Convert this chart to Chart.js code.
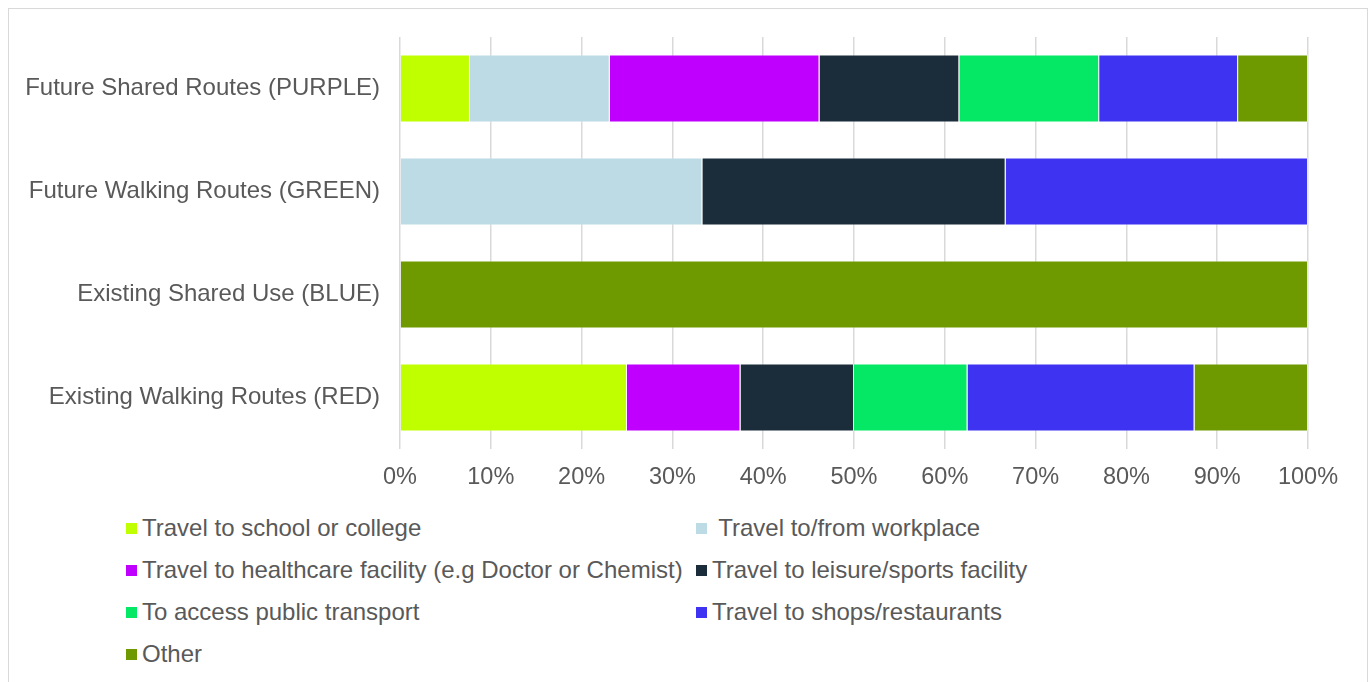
<!DOCTYPE html>
<html>
<head>
<meta charset="utf-8">
<script src="https://cdn.jsdelivr.net/npm/chart.js@4"></script>
<style>
  html, body { margin: 0; padding: 0; background: #fff; }
  body { width: 1372px; height: 682px; overflow: hidden; position: relative;
         font-family: "Liberation Sans", Arial, sans-serif; }
  #frame { position: absolute; left: 8px; top: 8px; width: 1360px; height: 700px;
           border: 1px solid #d9d9d9; box-sizing: border-box; }
  #wrap { position: absolute; left: 0; top: 0; width: 1372px; height: 500px; }
  #legend { position: absolute; left: 126px; top: 507px; display: grid;
            grid-template-columns: 570px 620px; grid-auto-rows: 42px;
            font-size: 24px; color: #595959; }
  #legend .item { display: flex; align-items: center; white-space: pre; }
  #legend .box { width: 11px; height: 11px; margin-right: 5px; flex: none; }
</style>
</head>
<body>
<div id="frame"></div>
<div id="wrap"><canvas id="usage"></canvas></div>
<div id="legend"></div>
<script>
// routes, top to bottom
const routes = ['Future Shared Routes (PURPLE)', 'Future Walking Routes (GREEN)',
                'Existing Shared Use (BLUE)', 'Existing Walking Routes (RED)'];

// share of responses per journey purpose (%)
const school     = [7.7, 0, 0, 25];
const workplace  = [15.4, 33.3, 0, 0];
const healthcare = [23.1, 0, 0, 12.5];
const leisure    = [15.4, 33.4, 0, 12.5];
const transport  = [15.4, 0, 0, 12.5];
const shops      = [15.3, 33.3, 0, 25];
const other      = [7.7, 0, 100, 12.5];

const purposes = ['Travel to school or college', ' Travel to/from workplace',
                  'Travel to healthcare facility (e.g Doctor or Chemist)', 'Travel to leisure/sports facility',
                  'To access public transport', 'Travel to shops/restaurants', 'Other'];
const colours = ['#bfff00', '#bddbe4', '#c000ff', '#1b2d3a', '#05e865', '#3f33f2', '#6e9a00'];
const series = [school, workplace, healthcare, leisure, transport, shops, other];

const family = '"Liberation Sans", Arial, sans-serif';

const chart = new Chart(document.getElementById('usage'), {
    type: 'bar',
    data: {
        labels: routes,
        datasets: series.map((d, i) => ({
            label: purposes[i],
            data: d,
            backgroundColor: colours[i],
            borderColor: 'rgba(255,255,255,0.35)',
            borderWidth: 1,
            categoryPercentage: 0.66,
            barPercentage: 1
        }))
    },
    options: {
        indexAxis: 'y',
        responsive: true,
        maintainAspectRatio: false,
        animation: false,
        layout: { padding: { top: 37, right: 64, left: 0, bottom: 0 } },
        plugins: { legend: { display: false }, tooltip: { enabled: false } },
        scales: {
            x: {
                stacked: true,
                min: 0, max: 100,
                ticks: { stepSize: 10, color: '#595959', font: { family, size: 23.5 }, padding: 14,
                         callback: v => v + '%' },
                grid: { color: '#d9d9d9', lineWidth: 1.5, drawTicks: false },
                border: { display: false },
                afterFit: s => { s.height = 51; }
            },
            y: {
                stacked: true,
                ticks: { color: '#595959', font: { family, size: 24 }, padding: 20 },
                grid: { display: false, drawTicks: false },
                border: { display: false },
                afterFit: s => { s.width = 400; }
            }
        }
    }
});

// two-column legend under the chart
const legend = document.getElementById('legend');
chart.data.datasets.forEach(ds => {
    const item = document.createElement('div');
    item.className = 'item';
    const box = document.createElement('span');
    box.className = 'box';
    box.style.background = ds.backgroundColor;
    const text = document.createElement('span');
    text.textContent = ds.label;
    item.appendChild(box);
    item.appendChild(text);
    legend.appendChild(item);
});
</script>
</body>
</html>
